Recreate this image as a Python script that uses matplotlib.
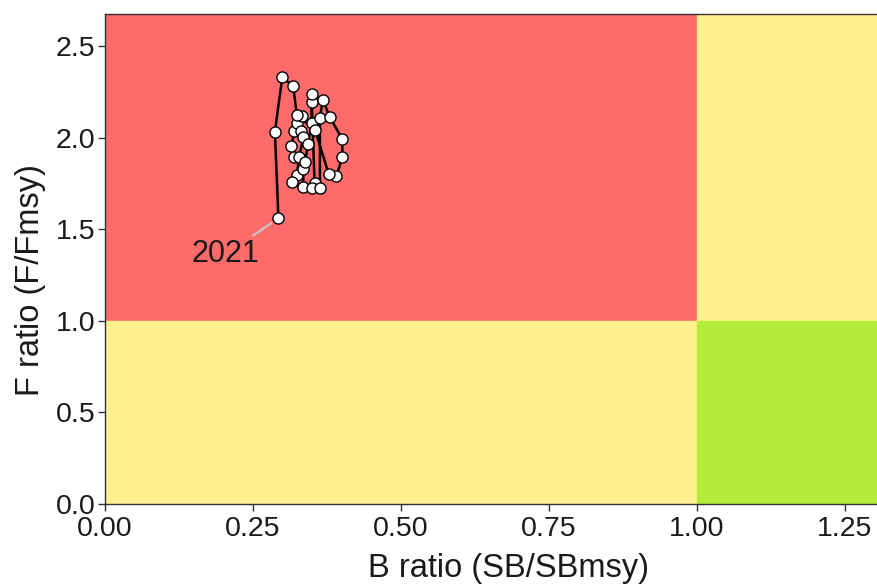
import matplotlib
matplotlib.use("Agg")
import matplotlib.pyplot as plt
from matplotlib.patches import Rectangle

plt.rcParams['font.family'] = ['Liberation Sans', 'DejaVu Sans']

# Kobe trajectory, 1989 -> 2021
years = list(range(1989, 2022))
b_ratio = [0.320, 0.315, 0.320, 0.324, 0.332, 0.331, 0.335, 0.328, 0.324, 0.316,
           0.335, 0.335, 0.338, 0.343, 0.349, 0.349, 0.349, 0.354, 0.350, 0.363,
           0.363, 0.368, 0.380, 0.401, 0.401, 0.391, 0.378, 0.355, 0.324, 0.318,
           0.2995, 0.287, 0.293]
f_ratio = [1.896, 1.954, 2.036, 2.078, 2.118, 2.036, 2.001, 1.896, 1.796, 1.756,
           1.732, 1.827, 1.869, 1.965, 2.078, 2.193, 2.236, 1.751, 1.723, 1.723,
           2.109, 2.207, 2.111, 1.991, 1.892, 1.792, 1.801, 2.041, 2.123, 2.282,
           2.329, 2.032, 1.559]

x_ticks = [0.00, 0.25, 0.50, 0.75, 1.00, 1.25]
y_ticks = [0.0, 0.5, 1.0, 1.5, 2.0, 2.5]
xmax, ymax = 1.365, 2.675

fig = plt.figure(figsize=(8.77, 5.88), dpi=100)
# panel runs past the right edge of the picture
ax = fig.add_axes([105 / 877, 84 / 588, 808 / 877, 490 / 588])

red, yellow, green = '#FF6A6A', '#FEF18E', '#B3EC3D'
ax.add_patch(Rectangle((0, 1), 1, ymax - 1, color=red, zorder=0))
ax.add_patch(Rectangle((0, 0), 1, 1, color=yellow, zorder=0))
ax.add_patch(Rectangle((1, 1), xmax - 1, ymax - 1, color=yellow, zorder=0))
ax.add_patch(Rectangle((1, 0), xmax - 1, 1, color=green, zorder=0))

ax.plot(b_ratio, f_ratio, color='black', lw=1.8, zorder=2)
ax.plot(b_ratio, f_ratio, 'o', ms=8, mfc='white', mec='black', mew=1.0, zorder=3)

# label for the last year, with a light leader line
ax.annotate(str(years[-1]), xy=(b_ratio[-1], f_ratio[-1]), xytext=(0.204, 1.365),
            ha='center', va='center', fontsize=22, color='#1a1a1a',
            arrowprops=dict(arrowstyle='-', color='#c8c8c8', lw=1.6,
                            shrinkA=1, shrinkB=6))

ax.set_xlim(0, xmax)
ax.set_ylim(0, ymax)
ax.set_xticks(x_ticks)
ax.set_xticklabels([f'{v:.2f}' for v in x_ticks])
ax.set_yticks(y_ticks)
ax.set_yticklabels([f'{v:.1f}' for v in y_ticks])
ax.tick_params(labelsize=20.5, length=5, width=1, color='#333333', labelcolor='#1a1a1a')
ax.tick_params(axis='x', pad=4)
ax.tick_params(axis='y', pad=2)

for s in ax.spines.values():
    s.set_color('#333333')
    s.set_linewidth(1)

ax.set_xlabel('B ratio (SB/SBmsy)', fontsize=23.5, color='#1a1a1a')
ax.set_ylabel('F ratio (F/Fmsy)', fontsize=23.5, color='#1a1a1a')
ax.xaxis.set_label_coords(0.5, (504 - 569) / 490, transform=ax.transAxes)
ax.yaxis.set_label_coords((30 - 105) / 808, (504 - 280) / 490, transform=ax.transAxes)
ax.xaxis.label.set_va('center')
ax.yaxis.label.set_va('center')

fig.savefig('out.png', dpi=100)
